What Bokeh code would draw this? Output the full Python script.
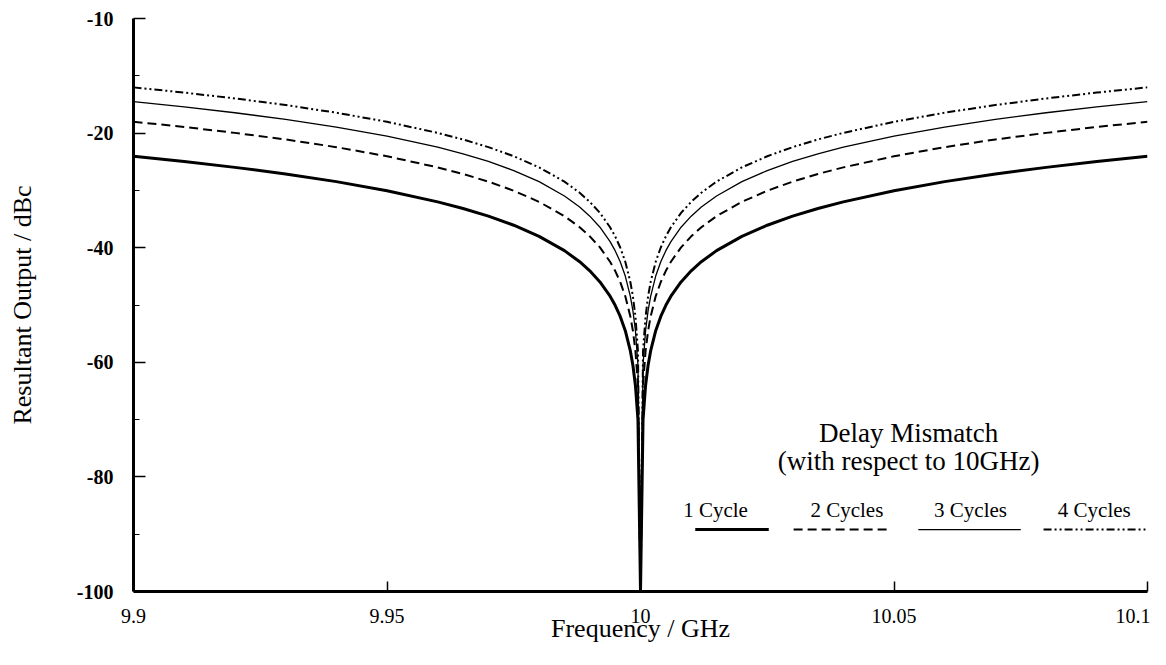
from bokeh.plotting import figure
from bokeh.models import Range1d, FixedTicker, Label
from bokeh.embed import file_html
from bokeh.resources import INLINE

# Frequency (GHz)
freq = [9.9, 9.91, 9.92, 9.93, 9.94, 9.95, 9.96, 9.965, 9.97, 9.975, 9.98, 9.985,
        9.988, 9.99, 9.992, 9.994, 9.995, 9.996, 9.997, 9.998, 9.9985, 9.999, 9.9995,
        10.0,
        10.0005, 10.001, 10.0015, 10.002, 10.003, 10.004, 10.005, 10.006, 10.008, 10.01,
        10.012, 10.015, 10.02, 10.025, 10.03, 10.035, 10.04, 10.05, 10.06, 10.07, 10.08,
        10.09, 10.1]

# Resultant output (dBc) for each delay mismatch
cycle1 = [-24.04, -24.95, -25.98, -27.13, -28.47, -30.06, -32.00, -33.15, -34.49, -36.08,
          -38.02, -40.51, -42.45, -44.04, -45.97, -48.47, -50.06, -52.00, -54.49, -58.02,
          -60.51, -64.04, -70.06,
          -100.0,
          -70.06, -64.04, -60.51, -58.02, -54.49, -52.00, -50.06, -48.47, -45.97, -44.04,
          -42.45, -40.51, -38.02, -36.08, -34.49, -33.15, -32.00, -30.06, -28.47, -27.13,
          -25.98, -24.95, -24.04]
cycle2 = [-18.02, -18.93, -19.96, -21.11, -22.45, -24.04, -25.98, -27.13, -28.47, -30.06,
          -32.00, -34.49, -36.43, -38.02, -39.95, -42.45, -44.04, -45.98, -48.47, -52.00,
          -54.49, -58.02, -64.04,
          -100.0,
          -64.04, -58.02, -54.49, -52.00, -48.47, -45.98, -44.04, -42.45, -39.95, -38.02,
          -36.43, -34.49, -32.00, -30.06, -28.47, -27.13, -25.98, -24.04, -22.45, -21.11,
          -19.96, -18.93, -18.02]
cycle3 = [-14.51, -15.42, -16.45, -17.60, -18.94, -20.53, -22.46, -23.61, -24.95, -26.54,
          -28.48, -30.97, -32.91, -34.50, -36.43, -38.93, -40.52, -42.46, -44.95, -48.48,
          -50.97, -54.50, -60.52,
          -100.0,
          -60.52, -54.50, -50.97, -48.48, -44.95, -42.46, -40.52, -38.93, -36.43, -34.50,
          -32.91, -30.97, -28.48, -26.54, -24.95, -23.61, -22.46, -20.53, -18.94, -17.60,
          -16.45, -15.42, -14.51]
cycle4 = [-12.02, -12.93, -13.95, -15.10, -16.44, -18.03, -19.96, -21.11, -22.45, -24.04,
          -25.98, -28.47, -30.41, -32.00, -33.93, -36.43, -38.02, -39.96, -42.45, -45.98,
          -48.47, -52.00, -58.02,
          -100.0,
          -58.02, -52.00, -48.47, -45.98, -42.45, -39.96, -38.02, -36.43, -33.93, -32.00,
          -30.41, -28.47, -25.98, -24.04, -22.45, -21.11, -19.96, -18.03, -16.44, -15.10,
          -13.95, -12.93, -12.02]

series_names = ["1 Cycle", "2 Cycles", "3 Cycles", "4 Cycles"]

x_ticks = [9.9, 9.95, 10.0, 10.05, 10.1]
x_tick_labels = ["9.9", "9.95", "10", "10.05", "10.1"]
y_ticks = [0, -20, -40, -60, -80, -100]
y_tick_labels = ["-10", "-20", "-40", "-60", "-80", "-100"]
y_minor = [-10, -30, -50, -70, -90]

FONT = "Liberation Serif"

p = figure(width=1150, height=649, output_backend="svg", toolbar_location=None,
           x_range=Range1d(9.9, 10.1), y_range=Range1d(-100, 0),
           min_border_left=133, min_border_right=3, min_border_top=18,
           min_border_bottom=58)
p.outline_line_color = None
p.xgrid.visible = False
p.ygrid.visible = False
p.background_fill_color = "white"
p.border_fill_color = "white"

styles = [
    dict(line_width=3.0, line_dash="solid"),
    dict(line_width=2.0, line_dash="9 5"),
    dict(line_width=1.3, line_dash="solid"),
    dict(line_width=2.0, line_dash="8 3 2 3 2 3"),
]
for ys, st in zip([cycle1, cycle2, cycle3, cycle4], styles):
    p.line(freq, ys, line_color="black", **st)

# Axes
p.xaxis.ticker = FixedTicker(ticks=x_ticks)
p.xaxis.major_label_overrides = {t: l for t, l in zip(x_ticks, x_tick_labels)}
p.yaxis.ticker = FixedTicker(ticks=y_ticks, minor_ticks=y_minor)
p.yaxis.major_label_overrides = {t: l for t, l in zip(y_ticks, y_tick_labels)}

for ax in (p.xaxis, p.yaxis):
    ax.axis_line_width = 3
    ax.axis_line_color = "black"
    ax.major_tick_line_color = "black"
    ax.major_tick_line_width = 1.5
    ax.major_tick_out = 0
    ax.minor_tick_out = 0
    ax.major_label_text_font = FONT
    ax.major_label_text_color = "black"
    ax.axis_label_text_font = FONT
    ax.axis_label_text_font_style = "normal"
    ax.axis_label_text_font_size = "26px"
    ax.axis_label_text_color = "black"

p.yaxis.major_tick_in = 12
p.yaxis.minor_tick_in = 6
p.yaxis.minor_tick_line_color = "black"
p.yaxis.minor_tick_line_width = 1.2
p.yaxis.major_label_text_font_size = "20px"
p.yaxis.major_label_text_font_style = "bold"
p.yaxis.major_label_standoff = 20
p.yaxis.axis_label = "Resultant Output / dBc"
p.yaxis.axis_label_standoff = 37

p.xaxis.major_tick_in = 10
p.xaxis.minor_tick_line_color = None
p.xaxis.major_label_text_font_size = "20px"
p.xaxis.major_label_standoff = 17
p.xaxis.axis_label = "Frequency / GHz"
p.xaxis.axis_label_standoff = -12

# Legend (drawn inside the plot)
p.add_layout(Label(x=10.0529, y=-72.4, text="Delay Mismatch", text_align="center",
                   text_baseline="alphabetic", text_font=FONT, text_font_size="27px",
                   text_color="black"))
p.add_layout(Label(x=10.0529, y=-77.3, text="(with respect to 10GHz)", text_align="center",
                   text_baseline="alphabetic", text_font=FONT, text_font_size="27px",
                   text_color="black"))

label_x = [10.0148, 10.0407, 10.0651, 10.0895]
seg_x0 = [10.0108, 10.0302, 10.0548, 10.0795]
seg_x1 = [10.0253, 10.0489, 10.0750, 10.0996]
for name, lx, a, b, st in zip(series_names, label_x, seg_x0, seg_x1, styles):
    p.add_layout(Label(x=lx, y=-85.8, text=name, text_align="center",
                       text_baseline="alphabetic", text_font=FONT, text_font_size="21px",
                       text_color="black"))
    p.line([a, b], [-89.2, -89.2], line_color="black", **st)

open("out.html", "w").write(file_html(p, INLINE))
